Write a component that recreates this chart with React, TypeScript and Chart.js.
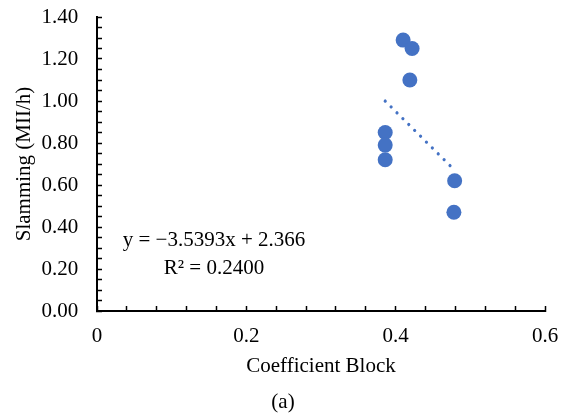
import React, { useEffect, useRef } from "react";
import { Chart, registerables } from "chart.js";

Chart.register(...registerables);

// Measured samples: block coefficient vs. slamming rate
const blockCoefficient = [0.41, 0.422, 0.419, 0.386, 0.386, 0.386, 0.479, 0.478];
const slammingRate = [1.29, 1.25, 1.1, 0.85, 0.79, 0.72, 0.62, 0.47];

// Linear trendline fitted to the samples
const trendSlope = -3.5393;
const trendIntercept = 2.366;
const trendR2 = 0.24;

// Axis ranges and tick spacing
const xAxisMax = 0.6;
const xMinorStep = 0.04;
const yAxisMax = 1.4;
const yMinorStep = 0.05;
const labelStep = 0.2;

const xTitle = "Coefficient Block";
const yTitle = "Slamming (MII/h)";
const caption = "(a)";

const FONT = '"Liberation Serif", "Times New Roman", serif';
const BLUE = "#4472C4";

const isMajor = (v: number) => Math.abs(v / labelStep - Math.round(v / labelStep)) < 1e-6;

const equationText = `y = \u2212${Math.abs(trendSlope)}x + ${trendIntercept}`;
const r2Text = `R\u00B2 = ${trendR2.toFixed(4)}`;

// Keep the plot area fixed: tick labels may overhang the axes
const fixScaleBox = (size: { width?: number; height?: number }) => (s: any) => {
  if (size.width !== undefined) s.width = size.width;
  if (size.height !== undefined) s.height = size.height;
  s.paddingTop = 0;
  s.paddingBottom = 0;
  s.paddingLeft = 0;
  s.paddingRight = 0;
};

const annotationPlugin = {
  id: "trendAnnotation",
  afterDraw(chart: any) {
    const { ctx, chartArea } = chart;
    ctx.save();
    ctx.fillStyle = "#000";
    ctx.font = `21px ${FONT}`;
    ctx.textAlign = "center";
    ctx.textBaseline = "middle";
    const cx = chartArea.left + 117;
    ctx.fillText(equationText, cx, chartArea.top + 223);
    ctx.fillText(r2Text, cx, chartArea.top + 251);
    ctx.fillText(caption, 283, 402);
    ctx.restore();
  },
};

export default function App() {
  const canvasRef = useRef<HTMLCanvasElement | null>(null);

  useEffect(() => {
    if (!canvasRef.current) return;
    const xs = blockCoefficient;
    const xLo = Math.min(...xs);
    const xHi = Math.max(...xs);
    const points = xs.map((x, i) => ({ x, y: slammingRate[i] }));
    const trend = [
      { x: xLo, y: trendSlope * xLo + trendIntercept },
      { x: xHi, y: trendSlope * xHi + trendIntercept },
    ];

    const chart = new Chart(canvasRef.current, {
      type: "scatter",
      data: {
        datasets: [
          {
            data: points,
            backgroundColor: BLUE,
            borderColor: BLUE,
            borderWidth: 0,
            pointRadius: 7.5,
            pointHoverRadius: 7.5,
          },
          {
            data: trend,
            showLine: true,
            borderColor: BLUE,
            borderWidth: 3.2,
            borderDash: [0.01, 8.3],
            borderCapStyle: "round",
            pointRadius: 0,
            pointHoverRadius: 0,
          },
        ],
      },
      options: {
        responsive: false,
        animation: false,
        layout: { padding: { left: 0, top: 17, right: 20, bottom: 26 } },
        plugins: {
          legend: { display: false },
          tooltip: { enabled: false },
        },
        scales: {
          x: {
            type: "linear",
            min: 0,
            max: xAxisMax,
            afterFit: fixScaleBox({ height: 79 }),
            border: { display: true, color: "#000", width: 2 },
            grid: {
              drawOnChartArea: false,
              drawTicks: true,
              tickLength: -5,
              tickColor: "#000",
              tickWidth: 1.5,
            },
            ticks: {
              stepSize: xMinorStep,
              autoSkip: false,
              maxRotation: 0,
              padding: 17.4,
              color: "#000",
              font: { family: FONT, size: 21 },
              callback: (v: any) => (isMajor(Number(v)) ? String(Math.round(Number(v) * 10) / 10) : ""),
            },
            title: {
              display: true,
              text: xTitle,
              color: "#000",
              font: { family: FONT, size: 21 },
              padding: { top: 0, bottom: 11 },
            },
          },
          y: {
            type: "linear",
            min: 0,
            max: yAxisMax,
            afterFit: fixScaleBox({ width: 97 }),
            border: { display: true, color: "#000", width: 2 },
            grid: {
              drawOnChartArea: false,
              drawTicks: true,
              tickLength: -5,
              tickColor: "#000",
              tickWidth: 1.5,
            },
            ticks: {
              stepSize: yMinorStep,
              autoSkip: false,
              padding: 23.7,
              color: "#000",
              font: { family: FONT, size: 21 },
              callback: (v: any) => (isMajor(Number(v)) ? Number(v).toFixed(2) : ""),
            },
            title: {
              display: true,
              text: yTitle,
              color: "#000",
              font: { family: FONT, size: 21 },
              padding: { top: 12, bottom: 0 },
            },
          },
        },
      },
      plugins: [annotationPlugin],
    } as any);

    return () => chart.destroy();
  }, []);

  return (
    <div style={{ position: "absolute", left: 0, top: 0, width: 565, height: 416, background: "#fff" }}>
      <canvas ref={canvasRef} width={565} height={416} style={{ display: "block" }} />
    </div>
  );
}
